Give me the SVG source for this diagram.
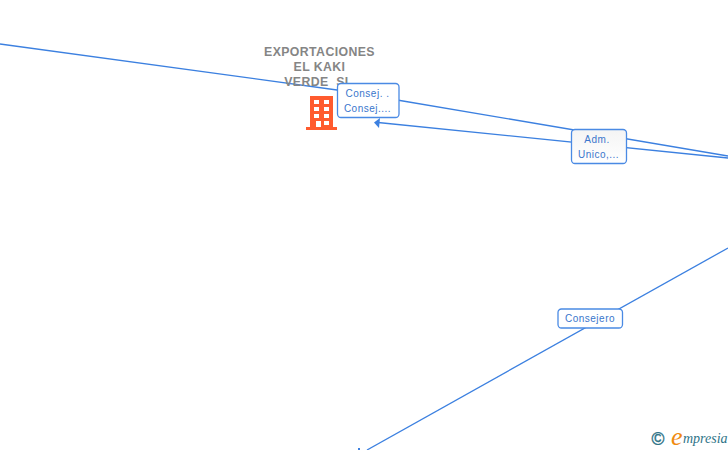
<svg xmlns="http://www.w3.org/2000/svg" width="728" height="450" viewBox="0 0 728 450">
<style>
.c{fill:none;stroke:#3c80e0;stroke-width:1.3}
.b{fill:#fff;stroke:#4a8ae4;stroke-width:1.3}
.l{font:10px "Liberation Sans",Arial,sans-serif;fill:#3a76cc;text-anchor:middle;letter-spacing:.5px}
.t{font:bold 12.300px "Liberation Sans",Arial,sans-serif;fill:#858585;text-anchor:middle;letter-spacing:.4px;white-space:pre}
.w{fill:#fff}
</style>
<defs><linearGradient id="g" x1="0" y1="0" x2="0" y2="1"><stop offset="0" stop-color="#f4f4f4"/><stop offset="1" stop-color="#fff"/></linearGradient></defs>
<g id="connectors">
<path class="c" d="M0 44L337 90L400 100.500L728 156"/>
<path class="c" d="M378 122.500L728 158"/>
<path d="M374 122.500L380 118L379 128Z" fill="#3c80e0"/>
<path class="c" d="M367 450L728 248"/>
<rect x="358" y="448" width="2" height="2" fill="#3c80e0"/>
</g>
<g id="node-company">
<text class="t" x="319.500" y="56">EXPORTACIONES</text>
<text class="t" x="319.500" y="71">EL KAKI</text>
<text class="t" x="318.500" y="86">VERDE  SL</text>
<path fill="#ff5b2e" d="M310 96H333V127H337V130H306V127H310Z"/>
<g class="w"><rect x="314" y="100" width="5" height="4"/><rect x="324" y="100" width="5" height="4"/><rect x="314" y="107" width="5" height="4"/><rect x="324" y="107" width="5" height="4"/><rect x="314" y="114" width="5" height="4"/><rect x="324" y="114" width="5" height="4"/><rect x="316" y="121" width="5" height="6"/><rect x="324" y="121" width="5" height="4"/></g>
</g>
<g id="label-consej">
<rect class="b" x="337.500" y="83.500" width="61.500" height="34" rx="3.500"/>
<text class="l" x="367.500" y="97">Consej. .</text>
<text class="l" x="367.500" y="112">Consej....</text>
</g>
<g id="label-adm">
<rect class="b" x="571.500" y="129.500" width="55" height="34" rx="3.500" style="fill:url(#g)"/>
<text class="l" x="597" y="143">Adm.</text>
<text class="l" x="598.500" y="158">Unico,...</text>
</g>
<g id="label-consejero">
<rect class="b" x="558" y="309" width="64.500" height="19" rx="3.500"/>
<text class="l" x="590" y="322">Consejero</text>
</g>
<g id="logo">
<text x="658" y="444.500" style="font:17.500px 'Liberation Sans',sans-serif;fill:#2f7488;stroke:#2f7488;stroke-width:.4;text-anchor:middle">©</text>
<text x="671" y="445" style="font:italic 26px 'Liberation Serif',serif;fill:#f08a10">e</text>
<text x="683" y="443" style="font:italic 14px 'Liberation Serif',serif;fill:#2f7488">mpresia</text>
</g>
</svg>
